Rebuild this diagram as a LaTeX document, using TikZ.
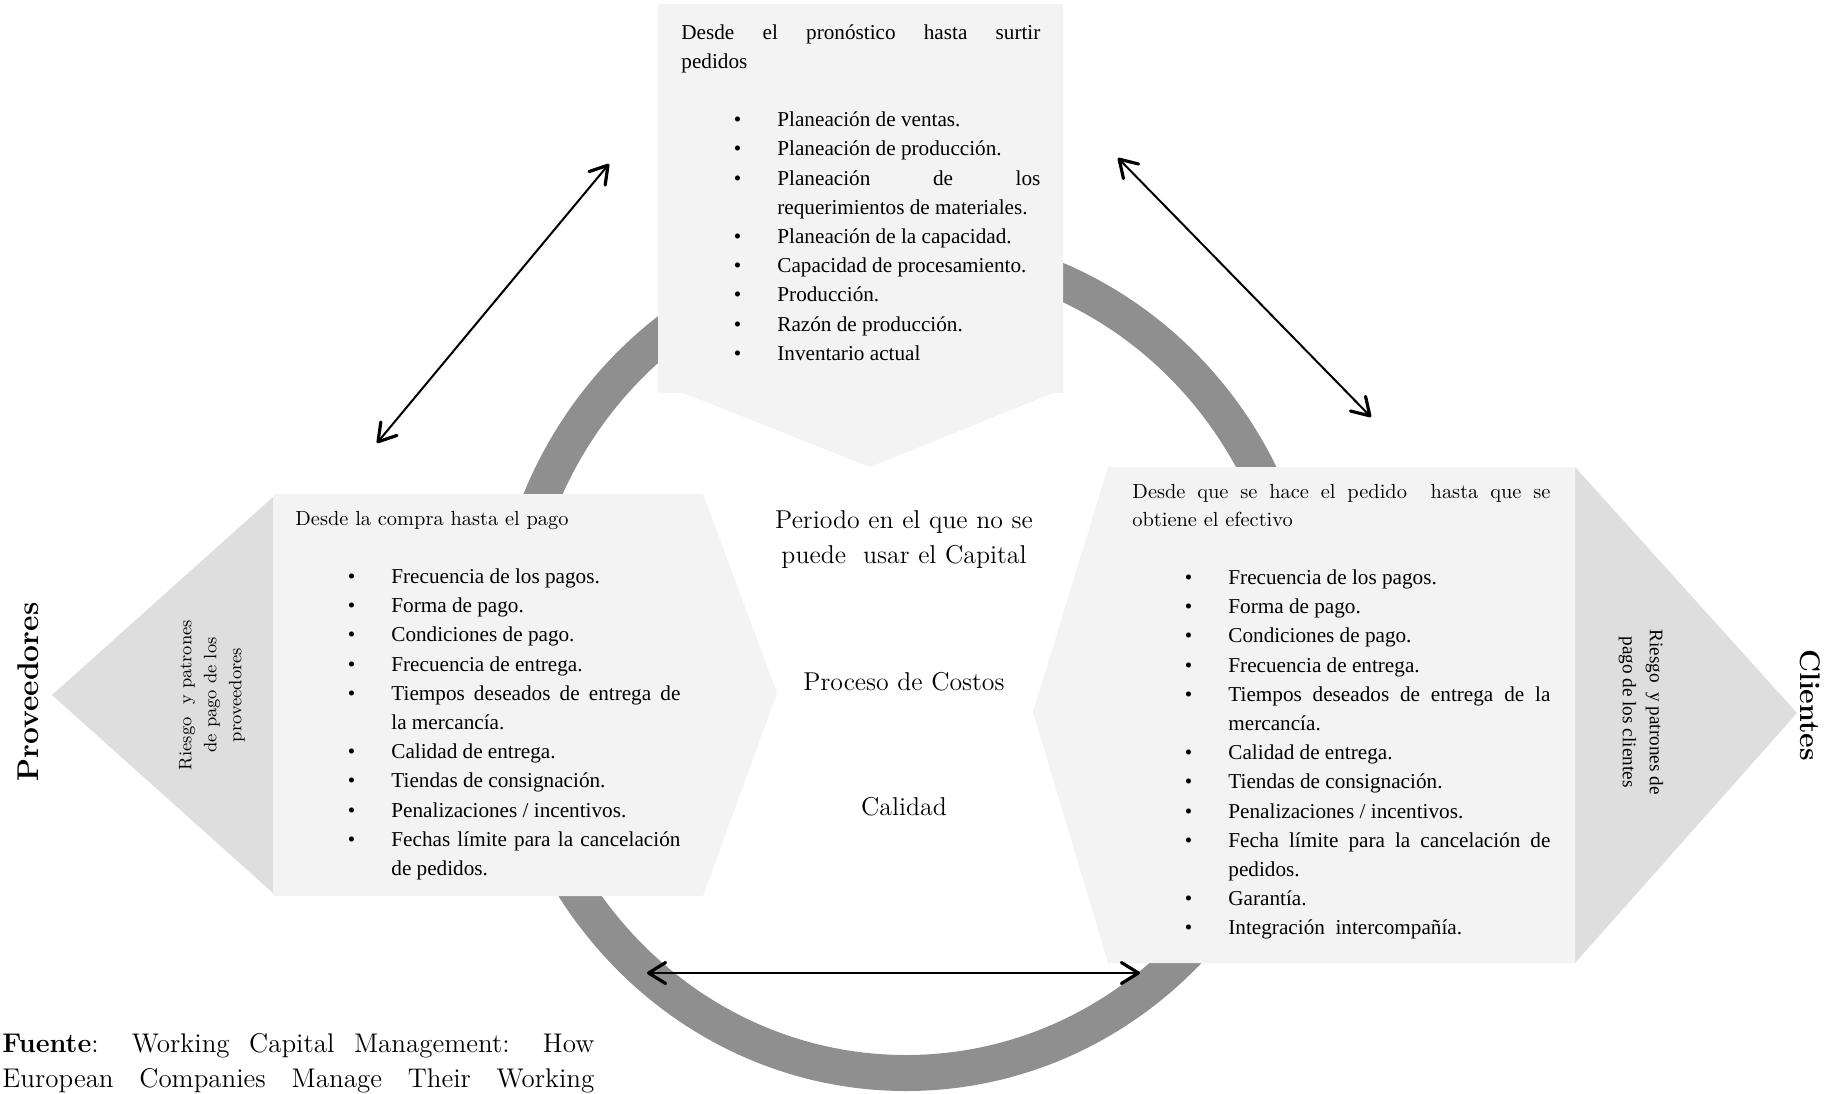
\documentclass[tikz,border=0pt]{standalone}
\usepackage{fontspec}
\newfontfamily\tnr{Liberation Serif}
\usetikzlibrary{arrows.meta}

\definecolor{ringgray}{HTML}{8F8F8F}
\definecolor{boxgray}{HTML}{F3F3F3}
\definecolor{tipgray}{HTML}{DEDEDE}

\tolerance=10000
\hbadness=10000
\hyphenpenalty=10000

\newcommand{\bitem}[1]{\par{\leftskip=48pt\noindent\llap{\textbullet\hspace{18pt}}#1\par}}

\begin{document}
\begin{tikzpicture}
        [
        x=0.5pt, y=-0.5pt,
        boxtext/.style={anchor=base west, inner sep=0pt, align=justify,
                font=\tnr\fontsize{10.6}{14.6}\selectfont},
        midtext/.style={anchor=base, inner sep=0pt, text width=170pt, align=center,
                font=\fontsize{12.9}{17.5}\selectfont},
        side/.style={inner sep=0pt, font=\bfseries\fontsize{15}{18}\selectfont},
        >={Straight Barb[round,length=8.5pt,width=10.5pt,line width=1.6pt]}
        ]
        \useasboundingbox (0,0) rectangle (1836,1093);

        % ring
        \fill[ringgray, even odd rule] (906,661) ellipse [x radius=415, y radius=430]
                (906,661) ellipse [x radius=379, y radius=394];

        % grey tips
        \fill[tipgray] (273,497) -- (52,695) -- (273,893) -- cycle;
        \fill[tipgray] (1575,467) -- (1797,713) -- (1575,963) -- cycle;

        % boxes
        \fill[boxgray] (658,4) -- (1063,4) -- (1063,393) -- (1053,393) -- (870,467)
                -- (683,393) -- (658,393) -- cycle;
        \fill[boxgray] (273,494) -- (703,494) -- (777,693) -- (703,896) -- (273,896) -- cycle;
        \fill[boxgray] (1108,467) -- (1575,467) -- (1575,963) -- (1108,963) -- (1033,712) -- cycle;

        \node[boxtext, text width=179.5pt] (plan) at (681,39) {Desde el pronóstico hasta surtir\linebreak pedidos\par\vspace{14.6pt}
                \bitem{Planeación de ventas.}
                \bitem{Planeación de producción.}
                \bitem{Planeación de los\linebreak requerimientos de materiales.}
                \bitem{Planeación de la capacidad.}
                \bitem{Capacidad de procesamiento.}
                \bitem{Producción.}
                \bitem{Razón de producción.}
                \bitem{Inventario actual}};

        \node[boxtext, text width=192.5pt] (compra) at (295,525) {{\rmfamily\fontsize{10.2}{14}\selectfont Desde la compra hasta el pago\par}\vspace{14.6pt}
                \bitem{Frecuencia de los pagos.}
                \bitem{Forma de pago.}
                \bitem{Condiciones de pago.}
                \bitem{Frecuencia de entrega.}
                \bitem{Tiempos deseados de entrega de\linebreak la mercancía.}
                \bitem{Calidad de entrega.}
                \bitem{Tiendas de consignación.}
                \bitem{Penalizaciones / incentivos.}
                \bitem{Fechas límite para la cancelación\linebreak de pedidos.}};

        \node[boxtext, text width=209pt] (pedido) at (1132,498) {{\rmfamily\fontsize{10.2}{14}\selectfont Desde que se hace el pedido\ \ hasta que se\linebreak obtiene el efectivo\par}\vspace{14.6pt}
                \bitem{Frecuencia de los pagos.}
                \bitem{Forma de pago.}
                \bitem{Condiciones de pago.}
                \bitem{Frecuencia de entrega.}
                \bitem{Tiempos deseados de entrega de la\linebreak mercancía.}
                \bitem{Calidad de entrega.}
                \bitem{Tiendas de consignación.}
                \bitem{Penalizaciones / incentivos.}
                \bitem{Fecha límite para la cancelación de\linebreak pedidos.}
                \bitem{Garantía.}
                \bitem{Integración\ \ intercompañía.}};

        \node[midtext] (periodo) at (904,528) {Periodo en el que no se\\puede\ \ usar el Capital};
        \node[midtext] (costos) at (904,690) {Proceso de Costos};
        \node[midtext] (calidad) at (904,815) {Calidad};

        \node[side, rotate=90] (prov) at (28,692) {Proveedores};
        \node[side, rotate=-90, font=\bfseries\fontsize{14.2}{17}\selectfont] (cli) at (1810,705) {Clientes};
        \node[inner sep=0pt, rotate=90, align=center, font=\fontsize{9}{12.5}\selectfont] (rprov) at (212,695)
                {Riesgo\ \ y patrones\\de pago de los\\proveedores};
        \node[inner sep=0pt, rotate=-90, align=center, font=\tnr\fontsize{9.6}{13.5}\selectfont] (rcli) at (1641,712)
                {Riesgo\ \ y patrones de\\pago de los clientes};

        \begin{scope}
                \clip (0,0) rectangle (1836,1093);
                \node[anchor=base west, inner sep=0pt, text width=296pt, align=justify,
                        font=\fontsize{13.5}{17.5}\selectfont] (fuente) at (2,1052)
                        {\textbf{Fuente}: Working Capital Management: How\linebreak
                        \makebox[\linewidth][s]{European Companies Manage Their Working}};
        \end{scope}

        \coordinate (lA) at (377,443);
        \coordinate (lB) at (609,164);
        \coordinate (rA) at (1118,158);
        \coordinate (rB) at (1371,417);
        \coordinate (bA) at (647,973);
        \coordinate (bB) at (1140,973);

        \draw[<->, line width=1pt] (lA) -- (lB);
        \draw[<->, line width=1pt] (rA) -- (rB);
        \draw[<->, line width=1pt] (bA) -- (bB);
\end{tikzpicture}
\end{document}
